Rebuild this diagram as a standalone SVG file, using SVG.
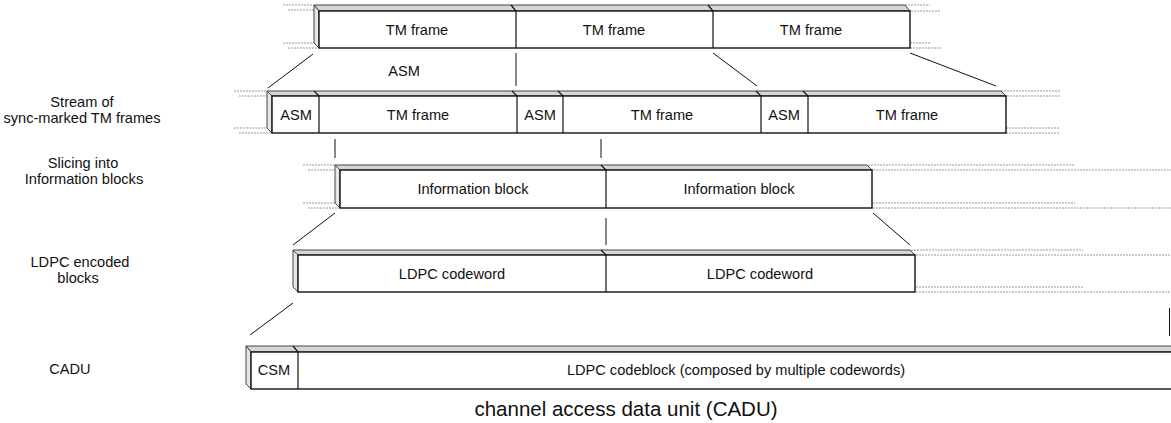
<svg xmlns="http://www.w3.org/2000/svg" width="1171" height="423" viewBox="0 0 1171 423">
<style>
text{font-family:"Liberation Sans",Arial,sans-serif;font-size:14.6px;fill:#111;text-anchor:middle}
.cap{font-size:20.5px}
.top{fill:#d6d6d6;stroke:#444;stroke-width:1}
.side{fill:#e6e6e6;stroke:#444;stroke-width:1}
.front{fill:#fff;stroke:#111;stroke-width:1.4}
.div{stroke:#111;stroke-width:1.2;fill:none}
.dot{stroke:#999;stroke-width:1;stroke-dasharray:2,1;fill:none}
.con{stroke:#111;stroke-width:1;fill:none}
</style>
<g id="labels">
<text x="82" y="107">Stream of</text>
<text x="82" y="123">sync-marked TM frames</text>
<text x="83" y="168">Slicing into</text>
<text x="84" y="184">Information blocks</text>
<text x="80" y="267">LDPC encoded</text>
<text x="78" y="283">blocks</text>
<text x="70" y="374">CADU</text>
<text class="cap" x="626" y="416">channel access data unit (CADU)</text>
</g>
<g id="dotted">
<path class="dot" d="M283 5H314M288 10H318M283 43H314M288 48H318M905 5H930M911 11H941M910 43H930M910 48H941"/>
<path class="dot" d="M234 91H267M239 96H271M234 128H267M239 133H271M1001 91H1060M1007 96H1060M1006 128H1060M1006 133H1060"/>
<path class="dot" d="M303 165H335M308 170H339M303 203H335M308 208H339M868 165H1075M873 170H1171M873 203H1075M873 208H1171"/>
<path class="dot" d="M911 250H1083M916 255H1171M916 287H1083M916 292H1171"/>
</g>
<g id="row1">
<polygon class="top" points="314,5 905,5 910,11 319,11"/>
<polygon class="side" points="314,5 319,11 319,48 314,43"/>
<rect class="front" x="319" y="11" width="591" height="37"/>
<path class="div" d="M511 5L516 11V48M708 5L713 11V48"/>
<text x="417" y="35">TM frame</text>
<text x="614" y="35">TM frame</text>
<text x="811" y="35">TM frame</text>
</g>
<g id="row2">
<polygon class="top" points="267,91 1001,91 1006,96 272,96"/>
<polygon class="side" points="267,91 272,96 272,133 267,128"/>
<rect class="front" x="272" y="96" width="734" height="37"/>
<path class="div" d="M314 91L319 96V133M512 91L517 96V133M558 91L563 96V133M756 91L761 96V133M803 91L808 96V133"/>
<text x="296" y="120">ASM</text>
<text x="418" y="120">TM frame</text>
<text x="540" y="120">ASM</text>
<text x="662" y="120">TM frame</text>
<text x="784" y="120">ASM</text>
<text x="907" y="120">TM frame</text>
</g>
<g id="row3">
<polygon class="top" points="335,165 867,165 872,170 340,170"/>
<polygon class="side" points="335,165 340,170 340,208 335,203"/>
<rect class="front" x="340" y="170" width="532" height="38"/>
<path class="div" d="M601 165L606 170V208"/>
<text x="473" y="194">Information block</text>
<text x="739" y="194">Information block</text>
</g>
<g id="row4">
<polygon class="top" points="293,250 910,250 915,255 298,255"/>
<polygon class="side" points="293,250 298,255 298,292 293,287"/>
<rect class="front" x="298" y="255" width="617" height="37"/>
<path class="div" d="M601 250L606 255V292"/>
<text x="452" y="279">LDPC codeword</text>
<text x="760" y="279">LDPC codeword</text>
</g>
<g id="row5">
<polygon class="top" points="246,346 1180,346 1185,352 251,352"/>
<polygon class="side" points="246,346 251,352 251,389 246,384"/>
<rect class="front" x="251" y="352" width="940" height="37"/>
<path class="div" d="M293 346L298 352V389"/>
<text x="274" y="375">CSM</text>
<text x="736" y="375">LDPC codeblock (composed by multiple codewords)</text>
</g>
<g id="connectors">
<text x="404" y="76">ASM</text>
<path class="con" d="M313 54L268 88M516 53V86M713 53L757 86M910 53L996 86"/>
<path class="con" d="M335 139V158M601 139V158"/>
<path class="con" d="M335 213L293 245M606 218V245M873 213L910 245"/>
<path class="con" d="M293 303L250 335M1169.5 308V336"/>
</g>
</svg>
